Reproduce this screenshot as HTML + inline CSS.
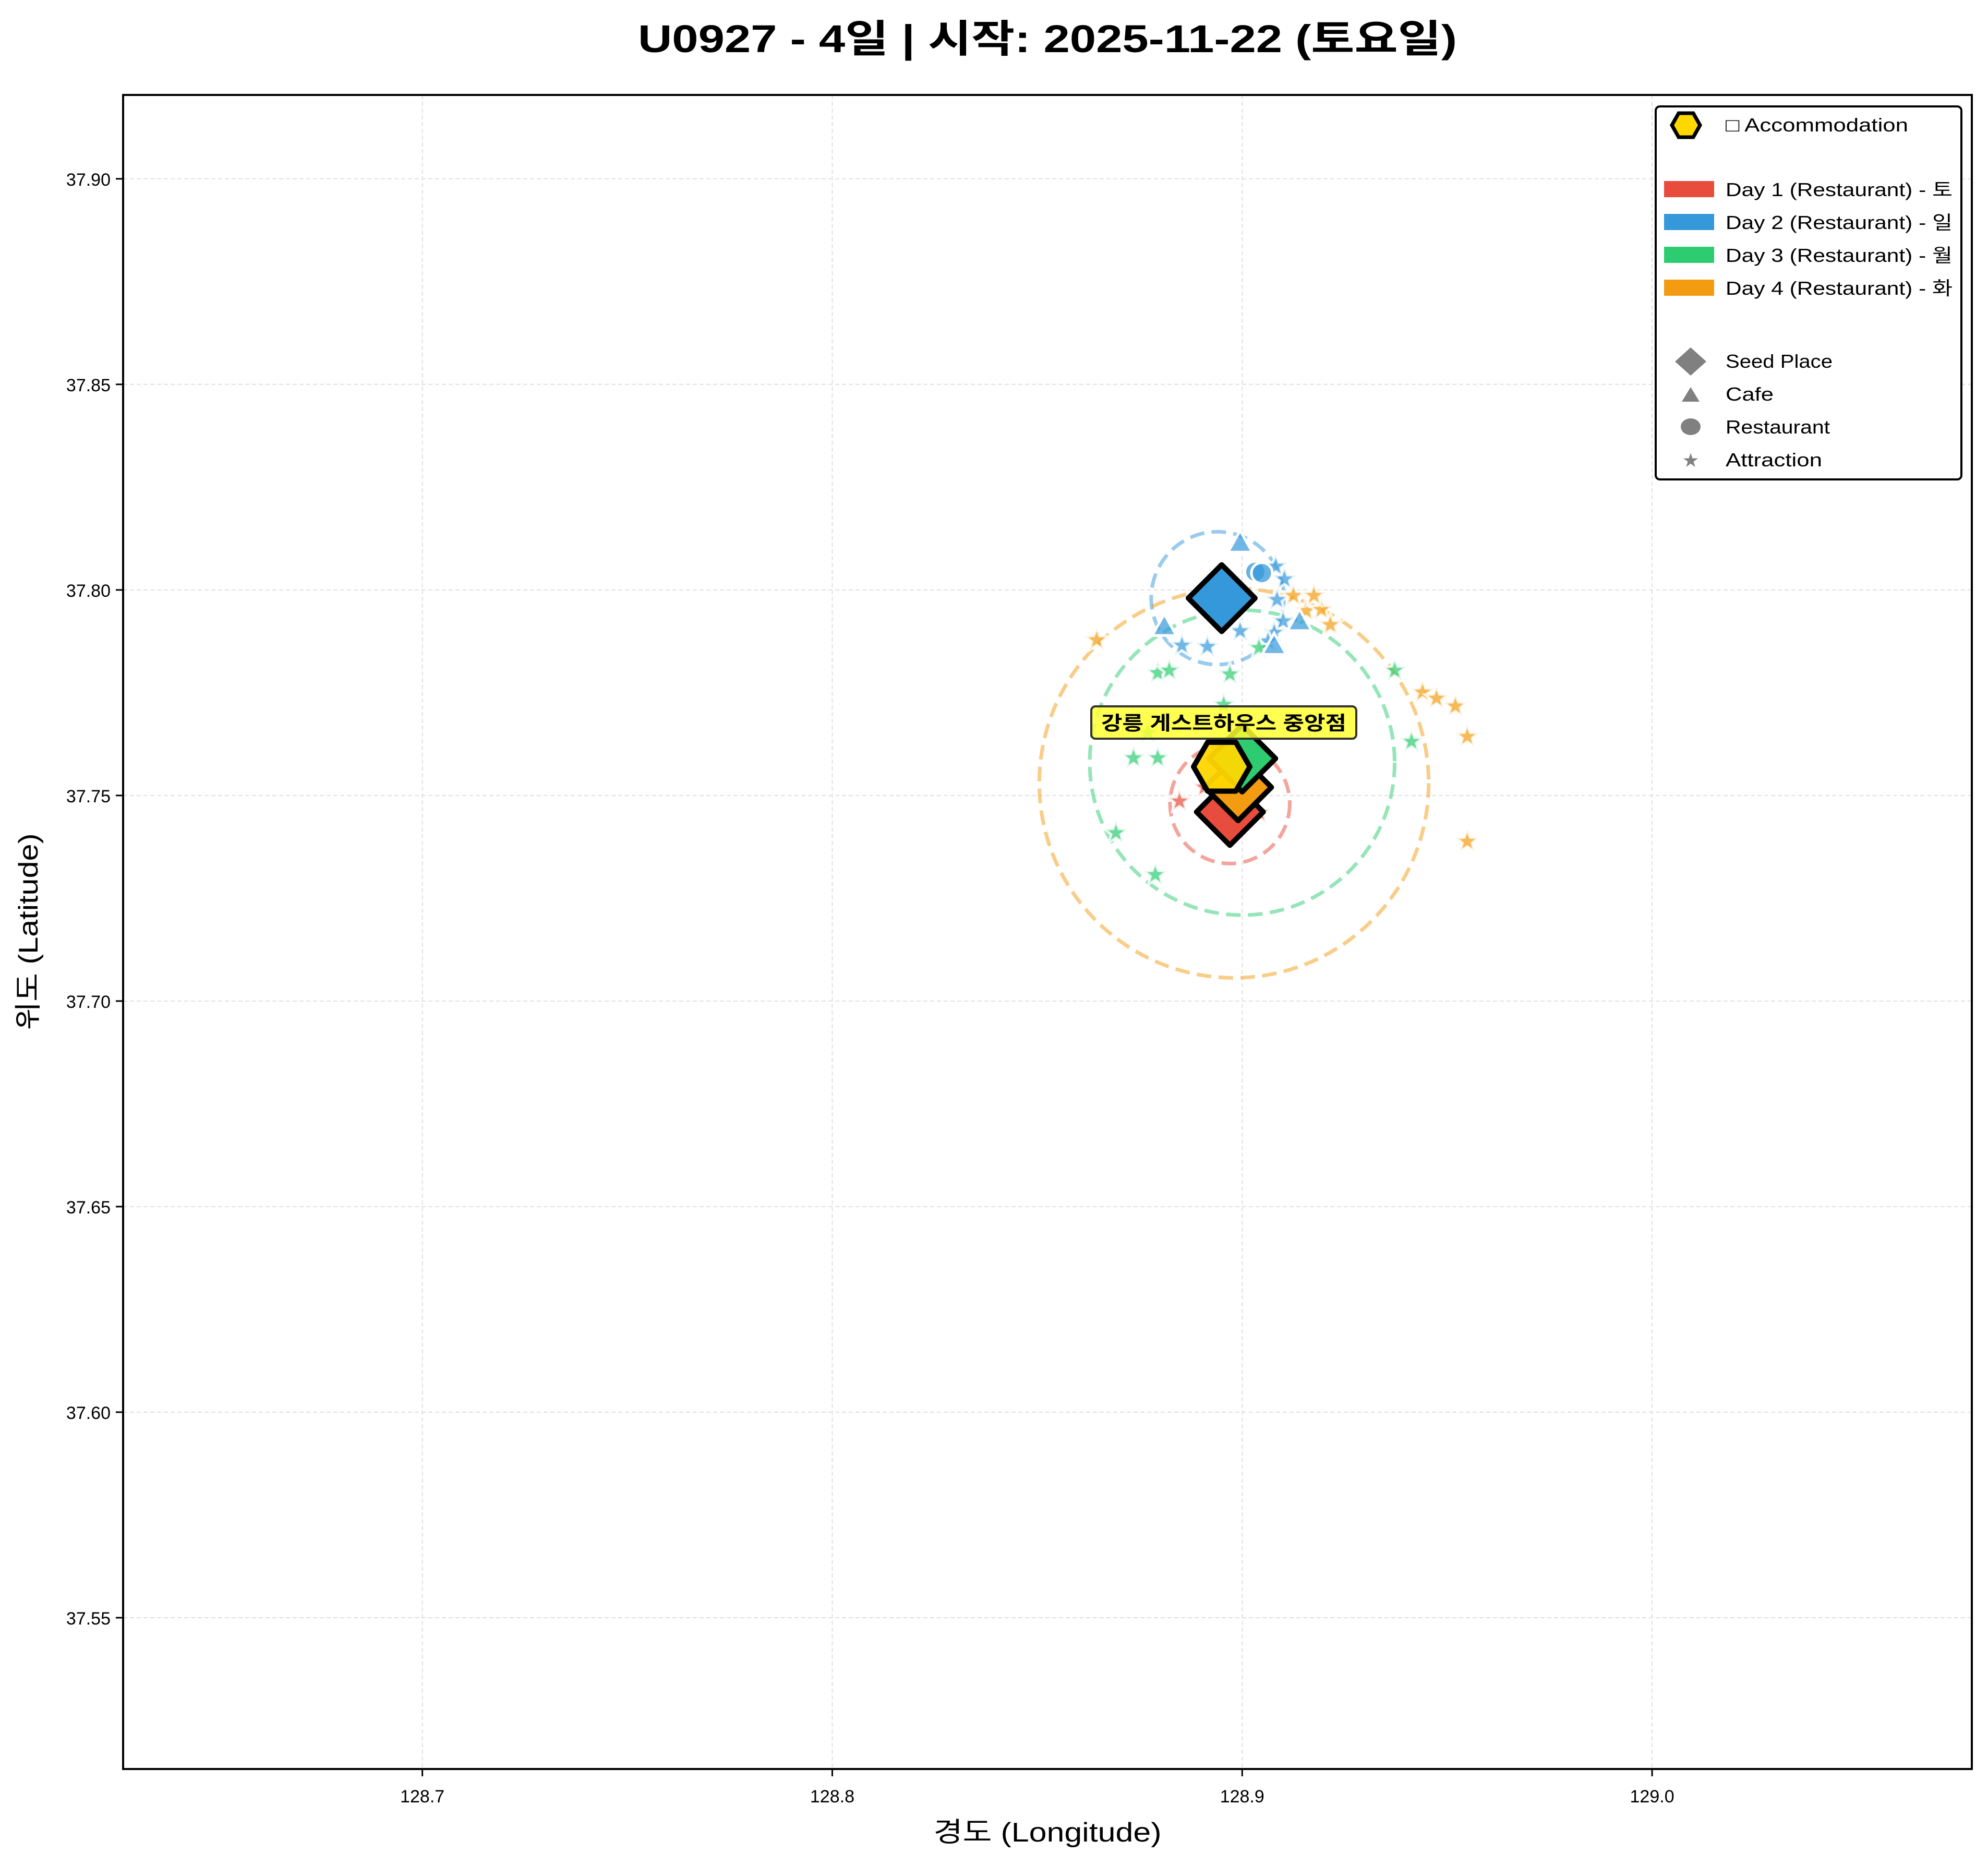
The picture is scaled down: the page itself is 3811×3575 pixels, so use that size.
<!DOCTYPE html>
<html><head><meta charset="utf-8"><style>
html,body{margin:0;padding:0;background:#fff;}
svg{display:block;font-family:"Liberation Sans","Noto Sans CJK KR",sans-serif;}
</style></head><body>
<svg id="chart" width="3811" height="3575" viewBox="0 0 3811 3575" xmlns="http://www.w3.org/2000/svg">
<rect x="0" y="0" width="3811" height="3575" fill="#fff"/>
<text x="2008" y="100" text-anchor="middle" font-size="74" font-weight="bold" fill="#000" textLength="1570" lengthAdjust="spacingAndGlyphs">U0927 - 4일 | 시작: 2025-11-22 (토요일)</text>
<g id="grid"></g>
<g id="circles"></g>
<g id="marks"></g>
<g id="seeds"></g>
<g id="accom"></g>
<rect x="236" y="182" width="3544" height="3209" fill="none" stroke="#000" stroke-width="4"/>
<g id="ticks"></g>
<text x="2008" y="3530" text-anchor="middle" font-size="52" fill="#000" textLength="437" lengthAdjust="spacingAndGlyphs">경도 (Longitude)</text>
<text transform="translate(72,1786) rotate(-90)" text-anchor="middle" font-size="52" fill="#000" textLength="377" lengthAdjust="spacingAndGlyphs">위도 (Latitude)</text>
<g>
<rect x="3174" y="204" width="586" height="715" rx="8" fill="#fff" stroke="#000" stroke-width="4"/>
<polygon points="3205,240 3218,217 3246,217 3259,240 3246,263 3218,263" fill="#FFD700" stroke="#000" stroke-width="7"/>
<text x="3308" y="252" font-size="36" textLength="350" lengthAdjust="spacingAndGlyphs">□ Accommodation</text>
<rect x="3190" y="347" width="96" height="31" fill="#E74C3C"/>
<text x="3308" y="376" font-size="36" textLength="435" lengthAdjust="spacingAndGlyphs">Day 1 (Restaurant) - 토</text>
<rect x="3190" y="410" width="96" height="31" fill="#3498DB"/>
<text x="3308" y="439" font-size="36" textLength="435" lengthAdjust="spacingAndGlyphs">Day 2 (Restaurant) - 일</text>
<rect x="3190" y="473" width="96" height="31" fill="#2ECC71"/>
<text x="3308" y="502" font-size="36" textLength="435" lengthAdjust="spacingAndGlyphs">Day 3 (Restaurant) - 월</text>
<rect x="3190" y="536" width="96" height="31" fill="#F39C12"/>
<text x="3308" y="565" font-size="36" textLength="435" lengthAdjust="spacingAndGlyphs">Day 4 (Restaurant) - 화</text>
<polygon points="3211,693 3241,666 3271,693 3241,720" fill="#808080"/>
<text x="3308" y="705" font-size="36" textLength="205" lengthAdjust="spacingAndGlyphs">Seed Place</text>
<polygon points="3224,770 3241,742 3258,770" fill="#808080"/>
<text x="3308" y="768" font-size="36" textLength="92" lengthAdjust="spacingAndGlyphs">Cafe</text>
<ellipse cx="3241" cy="818" rx="19" ry="16" fill="#808080"/>
<text x="3308" y="831" font-size="36" textLength="200" lengthAdjust="spacingAndGlyphs">Restaurant</text>
<text x="3241" y="893" text-anchor="middle" font-size="30" fill="#808080">★</text>
<text x="3308" y="894" font-size="36" textLength="185" lengthAdjust="spacingAndGlyphs">Attraction</text>
</g>
<g>
<rect x="2092" y="1354" width="508" height="62" rx="8" fill="#ffff33" fill-opacity="0.85" stroke="#333" stroke-width="4"/>
<text x="2346" y="1399" text-anchor="middle" font-size="37" font-weight="bold" fill="#000" textLength="470" lengthAdjust="spacingAndGlyphs">강릉 게스트하우스 중앙점</text>
</g>
<script>
const xTicks=[128.7,128.8,128.9,129.0];
const xTickLabels=["128.7","128.8","128.9","129.0"];
const yTicks=[37.55,37.60,37.65,37.70,37.75,37.80,37.85,37.90];
const yTickLabels=["37.55","37.60","37.65","37.70","37.75","37.80","37.85","37.90"];
const dayColors=["#E74C3C","#3498DB","#2ECC71","#F39C12"];
const circleLon=[128.897,128.894,128.900,128.898];
const circleLat=[37.748,37.798,37.758,37.753];
const circleRadius=[0.0146,0.0162,0.0372,0.0475];
const seedLon=[128.897,128.899,128.900,128.895];
const seedLat=[37.746,37.752,37.759,37.798];
const seedDay=[0,3,2,1];
const accomLon=[128.895];
const accomLat=[37.757];
const cafeLon=[128.8995,128.881,128.9078,128.914];
const cafeLat=[37.8115,37.7912,37.7866,37.7924];
const cafeDay=[1,1,1,1];
const restLon=[128.9032,128.9048];
const restLat=[37.8044,37.8041];
const restDay=[1,1];
const starLon=[128.9082,128.9103,128.9085,128.910,128.9078,128.9063,128.8995,128.8853,128.8915,
128.8645,128.9125,128.9156,128.9193,128.9215,128.944,128.9474,128.952,128.9549,128.9549,128.9175,
128.8794,128.8822,128.897,128.9041,128.9372,128.9413,128.8735,128.8794,128.8692,128.8788,128.8955,128.877,
128.8847,128.9041,128.8908];
const starLat=[37.8057,37.8026,37.7976,37.7924,37.7896,37.7875,37.790,37.7865,37.7862,
37.7878,37.7986,37.7949,37.7952,37.7915,37.7751,37.7736,37.7717,37.7643,37.7388,37.7986,
37.7798,37.7804,37.7795,37.7859,37.7804,37.7631,37.7591,37.7591,37.7409,37.7307,37.7721,37.7653,
37.7486,37.7458,37.752];
const starDay=[1,1,1,1,1,1,1,1,1, 3,3,3,3,3,3,3,3,3,3,3, 2,2,2,2,2,2,2,2,2,2,2,2, 0,0,0];

const X0=236,X1=3780,Y0=182,Y1=3391;
const lonMin=128.627,lonMax=129.078,latMin=37.5132,latMax=37.9204;
const sx=v=>X0+(v-lonMin)/(lonMax-lonMin)*(X1-X0);
const sy=v=>Y1-(v-latMin)/(latMax-latMin)*(Y1-Y0);
const pxPerLon=(X1-X0)/(lonMax-lonMin);
const NS="http://www.w3.org/2000/svg";
function mk(tag,parent,attrs){const e=document.createElementNS(NS,tag);for(const k in attrs)e.setAttribute(k,attrs[k]);parent.appendChild(e);return e;}
const grid=document.getElementById('grid'),ticks=document.getElementById('ticks');
xTicks.forEach((v,i)=>{const x=sx(v);
 const g=mk('line',grid,{x1:x,x2:x,y1:Y0,y2:Y1,stroke:'#e0e0e0','stroke-width':2,'stroke-dasharray':'8,5'});
 
 
 const t=mk('line',ticks,{x1:x,x2:x,y1:Y1,y2:Y1+14,stroke:'#000','stroke-width':3});
 
 
 const l=mk('text',ticks,{x:x,y:Y1+64,'text-anchor':'middle','font-size':34});l.textContent=xTickLabels[i];
 
 
});
yTicks.forEach((v,i)=>{const y=sy(v);
 const g=mk('line',grid,{x1:X0,x2:X1,y1:y,y2:y,stroke:'#e0e0e0','stroke-width':2,'stroke-dasharray':'8,5'});
 
 
 const t=mk('line',ticks,{x1:X0-14,x2:X0,y1:y,y2:y,stroke:'#000','stroke-width':3});
 
 
 const l=mk('text',ticks,{x:X0-24,y:y+13,'text-anchor':'end','font-size':34});l.textContent=yTickLabels[i];
 
 
});
const circ=document.getElementById('circles');
circleLon.forEach((v,i)=>{
 const c=mk('circle',circ,{cx:sx(v),cy:sy(circleLat[i]),r:circleRadius[i]*pxPerLon,fill:'none',stroke:dayColors[i],'stroke-opacity':0.5,'stroke-width':7,'stroke-dasharray':'28,14'});
 
 
});
const marks=document.getElementById('marks');
function starPts(cx,cy,R){let p=[];for(let k=0;k<10;k++){const r=k%2?R*0.42:R;const a=-Math.PI/2+k*Math.PI/5;p.push((cx+r*Math.cos(a)).toFixed(1)+','+(cy+r*Math.sin(a)).toFixed(1));}return p.join(' ');}
starLon.forEach((v,i)=>{
 const s=mk('polygon',marks,{points:starPts(sx(v),sy(starLat[i]),23),fill:dayColors[starDay[i]],'fill-opacity':0.7,stroke:'#fff','stroke-width':5,'stroke-opacity':0.8});
 
 
});
cafeLon.forEach((v,i)=>{const x=sx(v),y=sy(cafeLat[i]);
 const t=mk('polygon',marks,{points:`${x-23},${y+18} ${x},${y-23} ${x+23},${y+18}`,fill:dayColors[cafeDay[i]],'fill-opacity':0.7,stroke:'#fff','stroke-width':5});
 
 
});
restLon.forEach((v,i)=>{
 const c=mk('circle',marks,{cx:sx(v),cy:sy(restLat[i]),r:20,fill:dayColors[restDay[i]],'fill-opacity':0.75,stroke:'#fff','stroke-width':5});
 
 
});
const seeds=document.getElementById('seeds');
seedLon.forEach((v,i)=>{const x=sx(v),y=sy(seedLat[i]),r=64;
 const d=mk('polygon',seeds,{points:`${x},${y-r} ${x+r},${y} ${x},${y+r} ${x-r},${y}`,fill:dayColors[seedDay[i]],stroke:'#000','stroke-width':10,'stroke-linejoin':'round'});
 
 
});
const ac=document.getElementById('accom');
accomLon.forEach((v,i)=>{const x=sx(v),y=sy(accomLat[i]),r=54;let p=[];
 for(let k=0;k<6;k++){const a=k*Math.PI/3;p.push((x+r*Math.cos(a)).toFixed(1)+','+(y+r*Math.sin(a)).toFixed(1));}
 const h=mk('polygon',ac,{points:p.join(' '),fill:'#FFD700','fill-opacity':0.95,stroke:'#000','stroke-width':10,'stroke-linejoin':'round'});
 
 
});
</script>
</svg>
</body></html>
